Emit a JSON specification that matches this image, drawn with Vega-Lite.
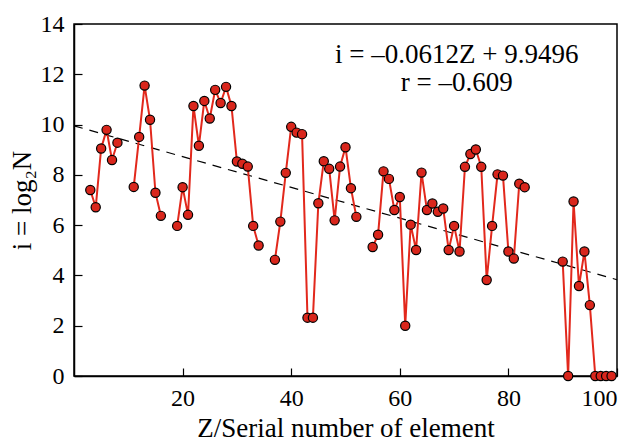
{
  "$schema": "https://vega.github.io/schema/vega-lite/v6.json",
  "width": 543,
  "height": 352,
  "autosize": {"type": "none"},
  "padding": {"left": 74, "top": 24, "right": 19, "bottom": 69},
  "background": "white",
  "config": {
    "view": {"stroke": "black", "strokeWidth": 1.5},
    "font": "Liberation Serif, Times New Roman, DejaVu Serif, serif",
    "axis": {
      "grid": false,
      "domainColor": "black",
      "domainWidth": 1.5,
      "tickColor": "black",
      "tickWidth": 1.2,
      "labelFont": "Liberation Serif, Times New Roman, DejaVu Serif, serif",
      "labelFontSize": 24,
      "labelColor": "black",
      "titleFont": "Liberation Serif, Times New Roman, DejaVu Serif, serif",
      "titleFontSize": 27,
      "titleFontWeight": "normal",
      "titleColor": "black"
    }
  },
  "datasets": {
    "pts": [
      {"Z": 3, "i": 7.40, "g": 1}, {"Z": 4, "i": 6.71, "g": 1}, {"Z": 5, "i": 9.05, "g": 1}, {"Z": 6, "i": 9.79, "g": 1}, {"Z": 7, "i": 8.59, "g": 1}, {"Z": 8, "i": 9.28, "g": 1},
      {"Z": 11, "i": 7.52, "g": 2}, {"Z": 12, "i": 9.51, "g": 2}, {"Z": 13, "i": 11.55, "g": 2}, {"Z": 14, "i": 10.19, "g": 2}, {"Z": 15, "i": 7.29, "g": 2}, {"Z": 16, "i": 6.37, "g": 2},
      {"Z": 19, "i": 5.97, "g": 3}, {"Z": 20, "i": 7.51, "g": 3}, {"Z": 21, "i": 6.41, "g": 3}, {"Z": 22, "i": 10.74, "g": 3}, {"Z": 23, "i": 9.16, "g": 3}, {"Z": 24, "i": 10.94, "g": 3}, {"Z": 25, "i": 10.24, "g": 3}, {"Z": 26, "i": 11.38, "g": 3}, {"Z": 27, "i": 10.86, "g": 3}, {"Z": 28, "i": 11.50, "g": 3}, {"Z": 29, "i": 10.74, "g": 3}, {"Z": 30, "i": 8.53, "g": 3}, {"Z": 31, "i": 8.44, "g": 3}, {"Z": 32, "i": 8.33, "g": 3}, {"Z": 33, "i": 5.97, "g": 3}, {"Z": 34, "i": 5.19, "g": 3},
      {"Z": 37, "i": 4.62, "g": 4}, {"Z": 38, "i": 6.14, "g": 4}, {"Z": 39, "i": 8.08, "g": 4}, {"Z": 40, "i": 9.91, "g": 4}, {"Z": 41, "i": 9.68, "g": 4}, {"Z": 42, "i": 9.62, "g": 4}, {"Z": 43, "i": 2.32, "g": 4}, {"Z": 44, "i": 2.32, "g": 4}, {"Z": 45, "i": 6.87, "g": 4}, {"Z": 46, "i": 8.54, "g": 4}, {"Z": 47, "i": 8.24, "g": 4}, {"Z": 48, "i": 6.19, "g": 4}, {"Z": 49, "i": 8.33, "g": 4}, {"Z": 50, "i": 9.10, "g": 4}, {"Z": 51, "i": 7.47, "g": 4}, {"Z": 52, "i": 6.33, "g": 4},
      {"Z": 55, "i": 5.13, "g": 5}, {"Z": 56, "i": 5.62, "g": 5}, {"Z": 57, "i": 8.14, "g": 5}, {"Z": 58, "i": 7.84, "g": 5}, {"Z": 59, "i": 6.60, "g": 5}, {"Z": 60, "i": 7.12, "g": 5}, {"Z": 61, "i": 2.00, "g": 5}, {"Z": 62, "i": 6.02, "g": 5}, {"Z": 63, "i": 5.01, "g": 5}, {"Z": 64, "i": 8.09, "g": 5}, {"Z": 65, "i": 6.60, "g": 5}, {"Z": 66, "i": 6.86, "g": 5}, {"Z": 67, "i": 6.53, "g": 5}, {"Z": 68, "i": 6.66, "g": 5}, {"Z": 69, "i": 5.01, "g": 5}, {"Z": 70, "i": 5.97, "g": 5}, {"Z": 71, "i": 4.95, "g": 5}, {"Z": 72, "i": 8.32, "g": 5}, {"Z": 73, "i": 8.83, "g": 5}, {"Z": 74, "i": 9.01, "g": 5}, {"Z": 75, "i": 8.32, "g": 5}, {"Z": 76, "i": 3.82, "g": 5}, {"Z": 77, "i": 5.97, "g": 5}, {"Z": 78, "i": 8.02, "g": 5}, {"Z": 79, "i": 7.97, "g": 5}, {"Z": 80, "i": 4.95, "g": 5}, {"Z": 81, "i": 4.67, "g": 5}, {"Z": 82, "i": 7.65, "g": 5}, {"Z": 83, "i": 7.51, "g": 5},
      {"Z": 90, "i": 4.55, "g": 6}, {"Z": 91, "i": 0, "g": 6}, {"Z": 92, "i": 6.94, "g": 6}, {"Z": 93, "i": 3.58, "g": 6}, {"Z": 94, "i": 4.95, "g": 6}, {"Z": 95, "i": 2.82, "g": 6}, {"Z": 96, "i": 0, "g": 6}, {"Z": 97, "i": 0, "g": 6}, {"Z": 98, "i": 0, "g": 6}, {"Z": 99, "i": 0, "g": 6}
    ],
    "fit": [{"Z": 0, "i": 9.9496}, {"Z": 100, "i": 3.8296}],
    "notes": [
      {"Z": 70.5, "i": 12.77, "t": "i = –0.0612Z + 9.9496"},
      {"Z": 70.5, "i": 11.65, "t": "r = –0.609"}
    ]
  },
  "encoding": {
    "x": {
      "field": "Z", "type": "quantitative",
      "scale": {"domain": [0, 100], "nice": false, "zero": false},
      "axis": {"values": [20, 40, 60, 80, 100], "tickSize": -8, "labelPadding": 18, "title": "Z/Serial number of element", "titlePadding": 5}
    },
    "y": {
      "field": "i", "type": "quantitative",
      "scale": {"domain": [0, 14], "nice": false},
      "axis": {"values": [0, 2, 4, 6, 8, 10, 12, 14], "tickSize": -8, "labelPadding": 18, "title": "i = log₂N", "titlePadding": 4}
    }
  },
  "layer": [
    {
      "data": {"name": "fit"},
      "mark": {"type": "line", "color": "black", "strokeWidth": 1.2, "strokeDash": [9, 7]}
    },
    {
      "data": {"name": "pts"},
      "mark": {"type": "line", "color": "#e2281c", "strokeWidth": 2},
      "encoding": {"detail": {"field": "g"}}
    },
    {
      "data": {"name": "pts"},
      "mark": {"type": "point", "filled": true, "fill": "#d9261c", "stroke": "black", "strokeWidth": 1.2, "size": 85, "opacity": 1}
    },
    {
      "data": {"name": "notes"},
      "mark": {"type": "text", "font": "Liberation Serif, Times New Roman, DejaVu Serif, serif", "fontSize": 27, "align": "center", "baseline": "middle", "color": "black"},
      "encoding": {"text": {"field": "t"}}
    }
  ]
}
